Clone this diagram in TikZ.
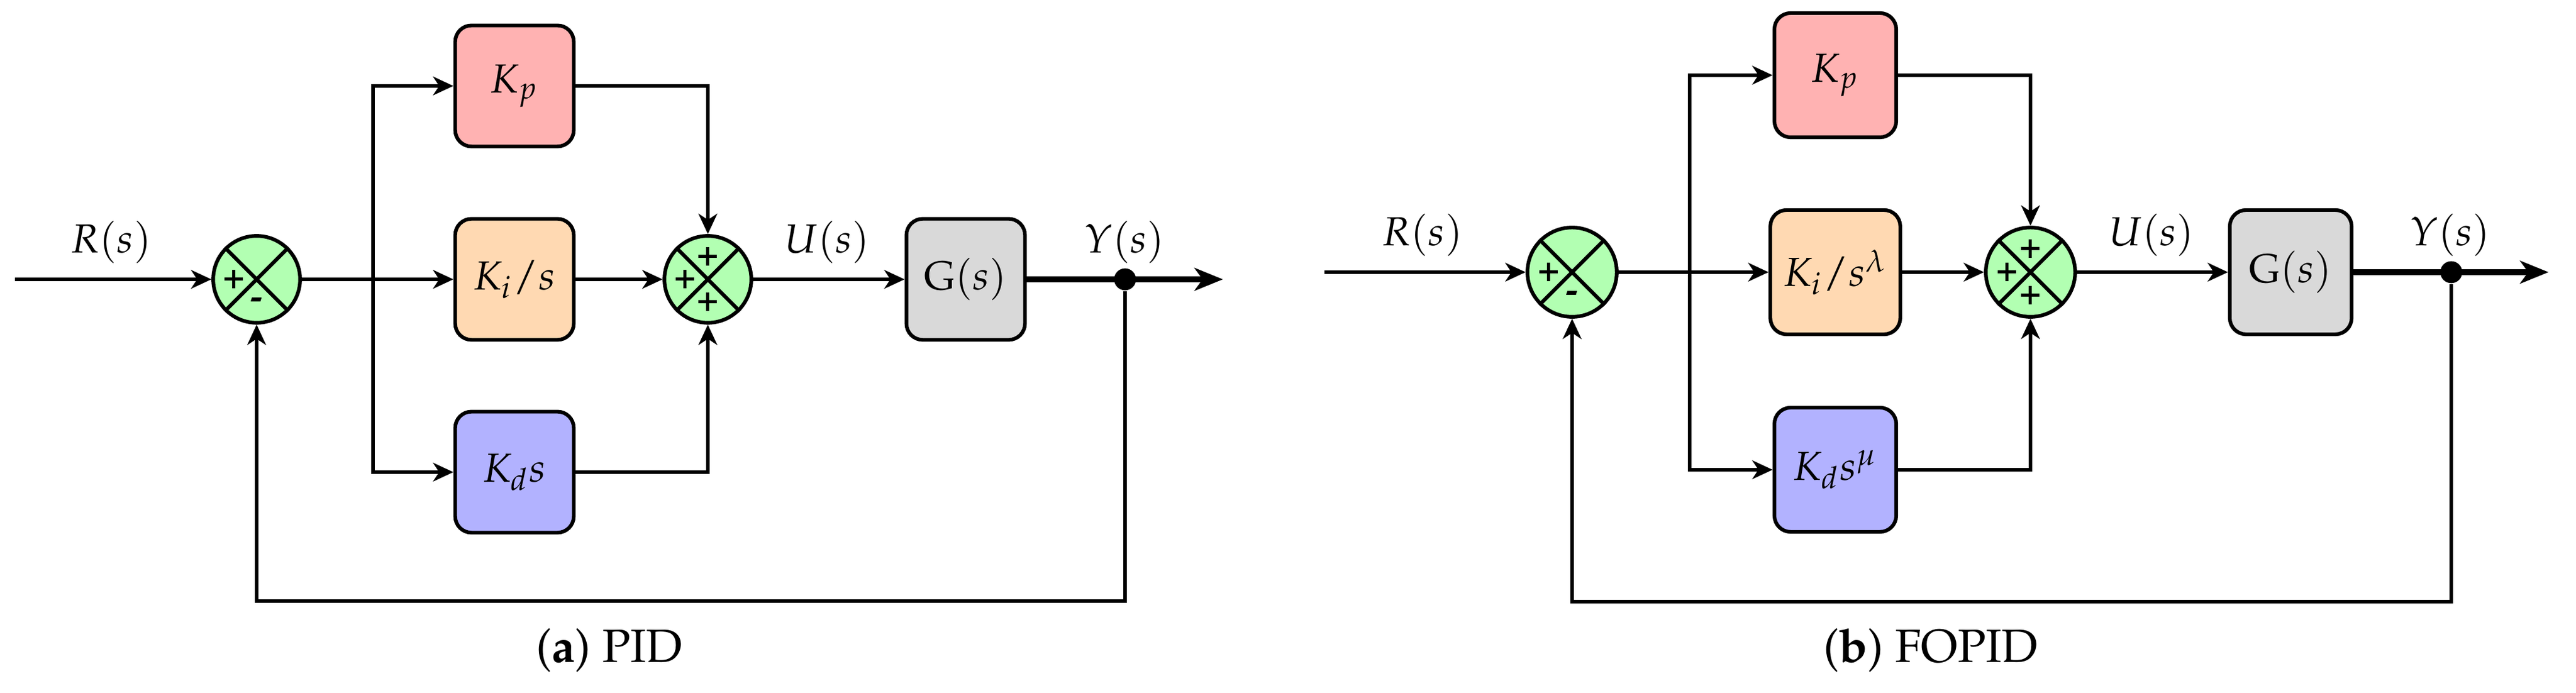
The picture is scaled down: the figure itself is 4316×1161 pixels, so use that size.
\documentclass[tikz,border=0pt]{standalone}
\usepackage[T1]{fontenc}
\usepackage{mathpazo}
\usetikzlibrary{arrows.meta}
\tikzset{
  conn/.style={line width=0.8pt},
  arr/.style={conn,-{Stealth[length=5pt,width=4.6pt,inset=1.5pt]}},
  outarr/.style={line width=1.5pt,-{Stealth[length=7pt,width=5.6pt,inset=2pt]}},
  blk/.style={draw,line width=0.9pt,rounded corners=4pt,minimum width=29.2pt,minimum height=29.8pt,inner sep=2pt,font=\fontsize{10}{12}\selectfont},
  blkr/.style={blk,minimum width=30pt,minimum height=30.6pt},
  sumc/.style={circle,draw,fill=green!30,line width=0.9pt,minimum size=21.4pt,inner sep=0pt},
  sumr/.style={sumc,minimum size=22pt},
  sgn/.style={inner sep=0pt,font=\fontsize{9}{10}\selectfont\bfseries},
  lbl/.style={anchor=base,inner sep=0pt,font=\fontsize{10}{12}\selectfont},
  captxt/.style={anchor=base,inner sep=0pt,font=\fontsize{11.5}{14}\selectfont},
  dotn/.style={circle,fill=black,inner sep=0pt,minimum size=5.4pt},
}
\begin{document}
\begin{tikzpicture}[x=0.147pt,y=-0.147pt]
\useasboundingbox (0,0) rectangle (4316,1161);
% ================= (a) PID =================
\coordinate (a-in) at (25,468);
\node[sumc] (a-s1) at (430,468) {};
\draw[line width=0.9pt] (a-s1.north west) -- (a-s1.south east) (a-s1.north east) -- (a-s1.south west);
\node[sgn] (a-s1p) at (392,468) {+};
\node[sgn] (a-s1m) at (430,508) {-};
\coordinate (a-br) at (625,468);
\node[blk,fill=red!30] (a-kp) at (862,144) {$K_p$};
\node[blk,fill=orange!30] (a-ki) at (862,468) {$K_i/s$};
\node[blk,fill=blue!30] (a-kd) at (862,791) {$K_d s$};
\node[sumc] (a-s2) at (1186,468) {};
\draw[line width=0.9pt] (a-s2.north west) -- (a-s2.south east) (a-s2.north east) -- (a-s2.south west);
\node[sgn] (a-s2t) at (1186,430) {+};
\node[sgn] (a-s2l) at (1148,468) {+};
\node[sgn] (a-s2b) at (1186,506) {+};
\node[blk,fill=gray!30] (a-g) at (1618,468) {$\mathrm{G}(s)$};
\node[dotn] (a-dot) at (1885,468) {};
\coordinate (a-out) at (2049,468);
\coordinate (a-fb) at (1885,1007);
\node[lbl] (a-rl) at (186,424) {$R(s)$};
\node[lbl] (a-ul) at (1386,424) {$U(s)$};
\node[lbl] (a-yl) at (1884,424) {$Y(s)$};
\draw[arr] (a-in) -- (a-s1);
\draw[arr] (a-s1) -- (a-ki);
\draw[arr] (a-br) |- (a-kp);
\draw[arr] (a-br) |- (a-kd);
\draw[arr] (a-kp) -| (a-s2);
\draw[arr] (a-ki) -- (a-s2);
\draw[arr] (a-kd) -| (a-s2);
\draw[arr] (a-s2) -- (a-g);
\draw[outarr] (a-g) -- (a-out);
\draw[arr] (a-dot) -- (a-fb) -| (a-s1);
\node[captxt] (a-cap) at (1021,1110) {(\textbf{a})~PID};
% ================= (b) FOPID =================
\coordinate (b-in) at (2219,456);
\node[sumr] (b-s1) at (2634,456) {};
\draw[line width=0.9pt] (b-s1.north west) -- (b-s1.south east) (b-s1.north east) -- (b-s1.south west);
\node[sgn] (b-s1p) at (2595,456) {+};
\node[sgn] (b-s1m) at (2634,497) {-};
\coordinate (b-br) at (2831,456);
\node[blkr,fill=red!30] (b-kp) at (3075,126) {$K_p$};
\node[blkr,fill=orange!30,minimum width=32pt] (b-ki) at (3075,456) {$K_i/s^{\lambda}$};
\node[blkr,fill=blue!30] (b-kd) at (3075,787) {$K_d s^{\mu}$};
\node[sumr] (b-s2) at (3402,456) {};
\draw[line width=0.9pt] (b-s2.north west) -- (b-s2.south east) (b-s2.north east) -- (b-s2.south west);
\node[sgn] (b-s2t) at (3402,417) {+};
\node[sgn] (b-s2l) at (3363,456) {+};
\node[sgn] (b-s2b) at (3402,495) {+};
\node[blkr,fill=gray!30] (b-g) at (3838,456) {$\mathrm{G}(s)$};
\node[dotn] (b-dot) at (4107,456) {};
\coordinate (b-out) at (4270,456);
\coordinate (b-fb) at (4107,1008);
\node[lbl] (b-rl) at (2383,412) {$R(s)$};
\node[lbl] (b-ul) at (3605,412) {$U(s)$};
\node[lbl] (b-yl) at (4105,412) {$Y(s)$};
\draw[arr] (b-in) -- (b-s1);
\draw[arr] (b-s1) -- (b-ki);
\draw[arr] (b-br) |- (b-kp);
\draw[arr] (b-br) |- (b-kd);
\draw[arr] (b-kp) -| (b-s2);
\draw[arr] (b-ki) -- (b-s2);
\draw[arr] (b-kd) -| (b-s2);
\draw[arr] (b-s2) -- (b-g);
\draw[outarr] (b-g) -- (b-out);
\draw[arr] (b-dot) -- (b-fb) -| (b-s1);
\node[captxt] (b-cap) at (3235,1110) {(\textbf{b})~FOPID};
\end{tikzpicture}
\end{document}
